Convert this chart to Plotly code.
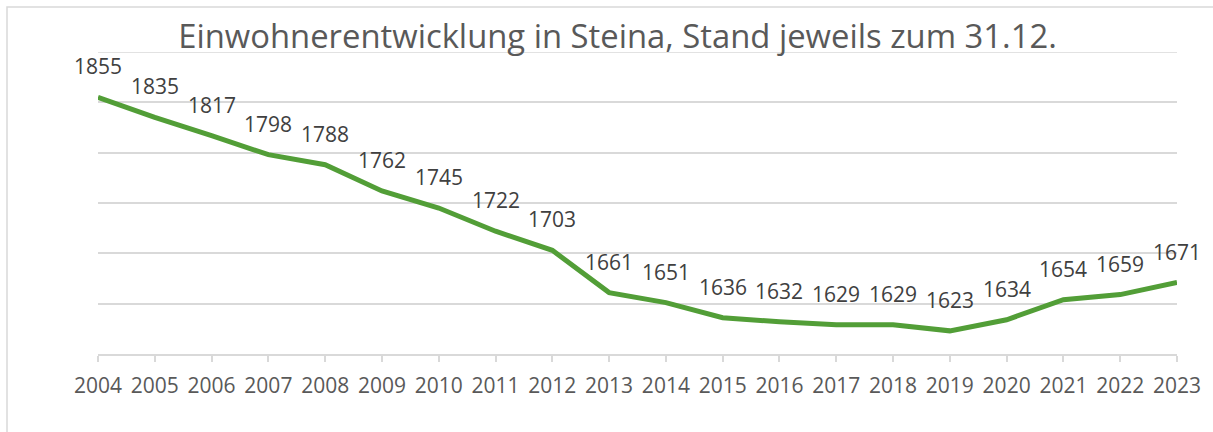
import plotly.graph_objects as go

years = list(range(2004, 2024))
population = [1855, 1835, 1817, 1798, 1788, 1762, 1745, 1722, 1703, 1661,
              1651, 1636, 1632, 1629, 1629, 1623, 1634, 1654, 1659, 1671]
title_text = "Einwohnerentwicklung in Steina, Stand jeweils zum 31.12."
y_min, y_max, y_step = 1600, 1900, 50

W, H = 1213, 432
L, R, T, B = 98, 36, 52, 78
pw, ph = W - L - R, H - T - B

fig = go.Figure()
fig.add_trace(go.Scatter(
    x=years, y=population, mode="lines",
    line=dict(color="#529E37", width=5),
    hoverinfo="x+y", showlegend=False, cliponaxis=False,
))

for yr, v in zip(years, population):
    fig.add_annotation(x=yr, y=v, text=str(v), showarrow=False, yshift=31,
                       font=dict(family="Open Sans", size=21, color="#404040"))

# top gridline at the axis maximum (plotly omits it at the plot edge)
fig.add_shape(type="line", xref="paper", yref="y", x0=0, x1=1, y0=y_max, y1=y_max,
              layer="below", line=dict(color="#D9D9D9", width=1.5))

# chart frame (light gray border, cropped at right/bottom)
fig.add_shape(type="rect", xref="paper", yref="paper", layer="below",
              x0=(7 - L) / pw, x1=(W + 20 - L) / pw,
              y0=(ph + T - (H + 20)) / ph, y1=(ph + T - 7) / ph,
              line=dict(color="#D9D9D9", width=1.5), fillcolor="rgba(0,0,0,0)")

fig.update_layout(
    width=W, height=H,
    margin=dict(l=L, r=R, t=T, b=B),
    paper_bgcolor="white", plot_bgcolor="white",
    title=dict(text=title_text, x=617.5 / W, xref="container", xanchor="center",
               y=(H - 37) / H, yref="container", yanchor="middle",
               font=dict(family="Open Sans", size=32.8, color="#595959")),
    xaxis=dict(range=[2004, 2023], tickvals=years, ticktext=[str(y) for y in years],
               showgrid=False, zeroline=False, showline=True, linecolor="#D9D9D9",
               linewidth=1.5, ticks="outside", ticklen=6, tickcolor="#D9D9D9",
               tickwidth=1.5, ticklabelstandoff=6,
               tickfont=dict(family="Open Sans", size=21, color="#595959")),
    yaxis=dict(range=[y_min, y_max], dtick=y_step, tick0=y_min, showticklabels=False,
               showgrid=True, gridcolor="#D9D9D9", gridwidth=1.5, zeroline=False,
               showline=False),
)

fig.write_html("out.html", config={"displayModeBar": False},
               post_script="document.body.style.margin='0';")
